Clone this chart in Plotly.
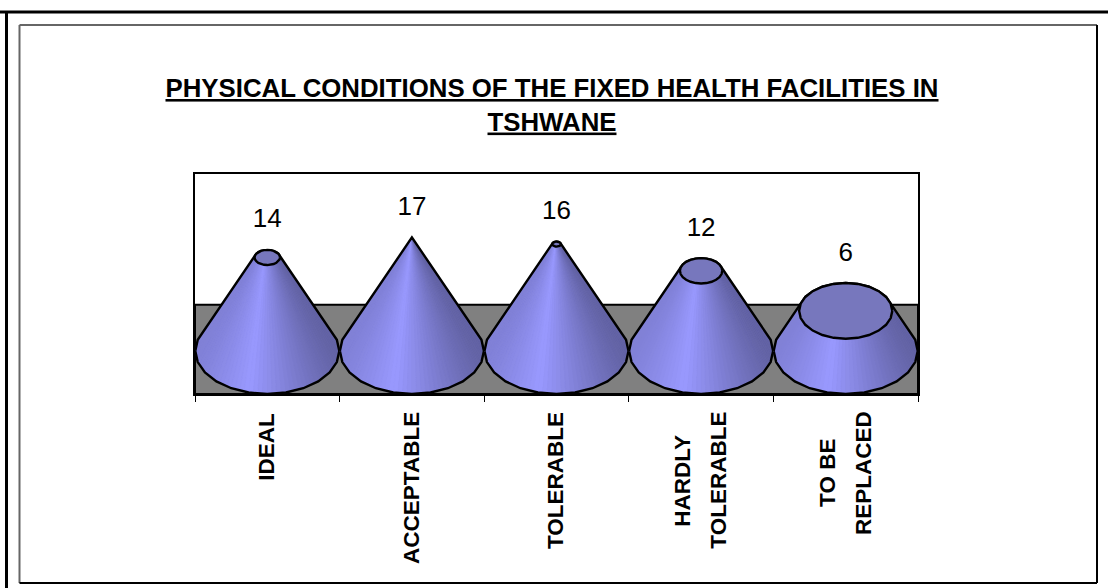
import math
import plotly.graph_objects as go

TITLE = "PHYSICAL CONDITIONS OF THE FIXED HEALTH FACILITIES IN<br>TSHWANE"
categories = ["IDEAL", "ACCEPTABLE", "TOLERABLE", "HARDLY<br>TOLERABLE", "TO BE<br>REPLACED"]
values = [14, 17, 16, 12, 6]
value_max = 17
wall_floor_level = 6.9
y_range = [-6.45, 26.5]

W, H = 1108, 588
L, R, T, B = 195, 918, 174, 394
FONT = "Liberation Sans"
RX, RY = 0.498, 6.45
N = 24      # corners of the cone outline
SUB = 4     # shaded strips per outline segment


def px(x):
    return (x - L) / (R - L)


def py(y):
    return (B - y) / (B - T)


def ring(cx, cy, k):
    return [(cx + RX * k * math.cos(2 * math.pi * j / N),
             cy + RY * k * math.sin(2 * math.pi * j / N)) for j in range(N)]


def lerp(a, b, t):
    return (a[0] + (b[0] - a[0]) * t, a[1] + (b[1] - a[1]) * t)


def hull(points):
    pts = sorted(set(points))
    def half(seq):
        out = []
        for p in seq:
            while len(out) > 1 and ((out[-1][0]-out[-2][0])*(p[1]-out[-2][1]) - (out[-1][1]-out[-2][1])*(p[0]-out[-2][0])) <= 0:
                out.pop()
            out.append(p)
        return out[:-1]
    return half(pts) + half(pts[::-1])


def shade(t):
    # t = -1 left edge of the cone, +1 right edge
    if t < -0.25:
        b = 0.84 + (t + 1) / 0.75 * 0.16
    else:
        b = 1.0 - (t + 0.25) / 1.25 * 0.36
    return f"rgb({153*b:.0f},{153*b:.0f},{255*b:.0f})"


fig = go.Figure()


def poly(pts, fill, line=None):
    xs = [p[0] for p in pts] + [pts[0][0]]
    ys = [p[1] for p in pts] + [pts[0][1]]
    fig.add_trace(go.Scatter(
        x=xs, y=ys, mode="lines", fill="toself", fillcolor=fill, cliponaxis=False,
        line=dict(color=line or fill, width=2.4 if line else 0.6),
        hoverinfo="skip", showlegend=False))


for i, v in enumerate(values):
    cx = i + 0.5
    k = 1 - v / value_max
    base = ring(cx, 0, 1)
    top = ring(cx, v, k)
    outline = hull(base + top)
    poly(outline, "#8585DD")
    for j in range(N):
        n = (j + 1) % N
        if math.sin(2 * math.pi * (j + 0.5) / N) < 0.3:
            for s in range(SUB):
                a0, a1 = s / SUB, (s + 1) / SUB
                b0, b1 = lerp(base[j], base[n], a0), lerp(base[j], base[n], a1)
                t0, t1 = lerp(top[j], top[n], a0), lerp(top[j], top[n], a1)
                poly([b0, b1, t1, t0], shade(math.cos(2 * math.pi * (j + (a0 + a1) / 2) / N)))
    xs = [p[0] for p in outline] + [outline[0][0]]
    ys = [p[1] for p in outline] + [outline[0][1]]
    fig.add_trace(go.Scatter(x=xs, y=ys, mode="lines", cliponaxis=False,
                             line=dict(color="black", width=2.4),
                             hoverinfo="skip", showlegend=False))
    if k > 0:
        poly(top, "#7777BD", "black")

label_gap = 29 / ((B - T) / (y_range[1] - y_range[0]))
fig.add_trace(go.Scatter(
    x=[i + 0.5 for i in range(len(values))],
    y=[v + RY * (1 - v / value_max) + label_gap for v in values],
    mode="text", text=[str(v) for v in values], textposition="middle center",
    textfont=dict(family=FONT, size=26, color="black"),
    hoverinfo="skip", showlegend=False))

annotations = []
for i, cat in enumerate(categories):
    lines = cat.split("<br>")
    longest = max(len(s) - 0.6 * s.count("I") for s in lines)
    centre = 414 + longest * 14.8 / 2
    for n, s in enumerate(lines):
        annotations.append(dict(
            text=f"<b>{s}</b>", textangle=-90, showarrow=False,
            x=i + 0.5, xref="x", xshift=(n - (len(lines) - 1) / 2) * 36 - 1,
            y=py(centre), yref="paper", xanchor="center", yanchor="middle",
            font=dict(family=FONT, size=22.5, color="black")))


def frame(x0, y0, x1, y1, color, width):
    return dict(type="line", xref="paper", yref="paper",
                x0=px(x0), y0=py(y0), x1=px(x1), y1=py(y1),
                line=dict(color=color, width=width))


shapes = [
    dict(type="rect", xref="x", yref="y", layer="below", x0=0, x1=5,
         y0=y_range[0], y1=wall_floor_level, fillcolor="#808080",
         line=dict(color="black", width=2)),
    frame(0, 12, W, 12, "black", 3),
    frame(6.5, 12, 6.5, H, "black", 3),
    frame(19.5, 25, 1097, 25, "#666666", 2),
    frame(19.5, 25, 19.5, 583, "#666666", 2),
    frame(1097, 25, 1097, 583, "black", 2),
    frame(19.5, 583, 1097, 583, "black", 2),
]

fig.update_layout(
    width=W, height=H, autosize=False,
    margin=dict(l=L, r=W - R, t=T, b=H - B),
    paper_bgcolor="white", plot_bgcolor="white",
    showlegend=False,
    title=dict(text=f"<b><u>{TITLE.split('<br>')[0]}</u><br><u>{TITLE.split('<br>')[1]}</u></b>",
               xref="container", yref="container", x=552 / W, y=1 - 97 / H,
               xanchor="center", yanchor="middle",
               font=dict(family=FONT, size=25.8, color="black")),
    xaxis=dict(range=[0, 5], tickvals=list(range(len(values) + 1)), showticklabels=False,
               ticks="outside", ticklen=6, tickcolor="black", tickwidth=1,
               showline=True, mirror=True, linecolor="black", linewidth=2,
               showgrid=False, zeroline=False, fixedrange=True),
    yaxis=dict(range=y_range, showticklabels=False, ticks="",
               showline=True, mirror=True, linecolor="black", linewidth=2,
               showgrid=False, zeroline=False, fixedrange=True),
    shapes=shapes, annotations=annotations,
)

fig.write_html("out.html", config={"displayModeBar": False},
               post_script="document.body.style.margin='0';document.body.style.overflow='hidden';")
